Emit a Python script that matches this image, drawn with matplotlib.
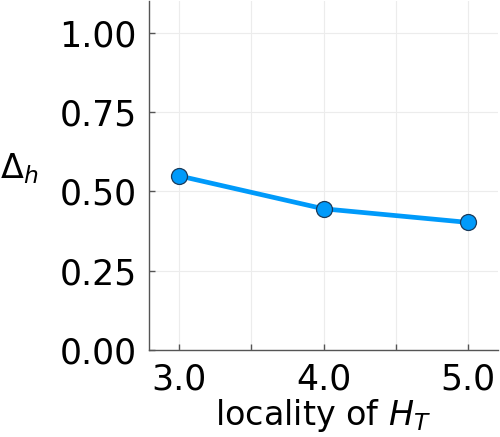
import matplotlib
matplotlib.use('Agg')
import matplotlib.pyplot as plt
from matplotlib.ticker import MultipleLocator

locality = [3.0, 4.0, 5.0]
delta_h = [0.549, 0.445, 0.402]
yticks = [0.0, 0.25, 0.5, 0.75, 1.0]
xticks = [3.0, 4.0, 5.0]

fig = plt.figure(figsize=(5, 4.37), dpi=100)
ax = fig.add_axes([0.298, 0.199, 0.698, 0.799])

ax.plot(locality, delta_h, color='#009AFA', lw=3.4, marker='o', ms=11.5,
        mfc='#009AFA', mec='#1a3a5a', mew=0.9, zorder=3)

ax.set_xlim(2.795, 5.205)
ax.set_ylim(0, 1.1)
ax.set_xticks(xticks)
ax.set_xticklabels([f'{v:.1f}' for v in xticks])
ax.set_yticks(yticks)
ax.set_yticklabels([f'{v:.2f}' for v in yticks])
ax.xaxis.set_minor_locator(MultipleLocator(0.5))

ax.grid(True, which='both', axis='x', color='#ececec', lw=0.8)
ax.grid(True, which='major', axis='y', color='#ececec', lw=0.8)
ax.set_axisbelow(True)

for s in ['top', 'right']:
    ax.spines[s].set_visible(False)
for s in ['left', 'bottom']:
    ax.spines[s].set_color('#555555')
    ax.spines[s].set_linewidth(1.0)

ax.tick_params(axis='both', which='both', direction='in', length=4,
               width=1.0, color='#555555', labelsize=25, pad=9)
ax.tick_params(axis='x', which='minor', labelbottom=False)

ax.set_xlabel(r'locality of $H_T$', fontsize=24, labelpad=0)
ax.set_ylabel(r'$\Delta_h$', fontsize=24, rotation=0, ha='center', va='center')
ax.yaxis.set_label_coords(-0.372, 0.52)

fig.savefig('out.png', dpi=100)
